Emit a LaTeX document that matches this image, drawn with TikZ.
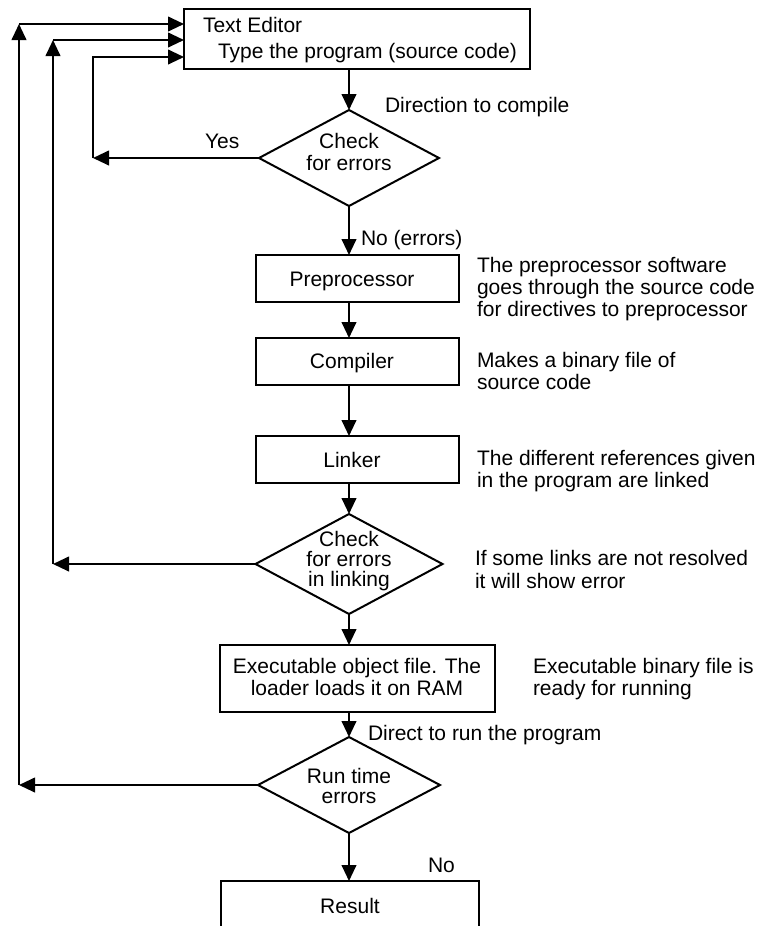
\documentclass[tikz,border=0pt]{standalone}
\usepackage{fontspec}
\setmainfont{Liberation Sans}
\usetikzlibrary{shapes.geometric,arrows.meta}

\begin{document}
\begin{tikzpicture}[x=0.75pt,y=-0.75pt,
  every node/.style={inner sep=0pt, outer sep=0pt, font=\fontsize{15.75}{18}\selectfont},
  stepbox/.style={draw, line width=1.5pt, rectangle, minimum width=152.25pt, minimum height=35.25pt},
  decision/.style={draw, line width=1.5pt, diamond, minimum width=135pt, minimum height=72pt},
  flow/.style={line width=1.5pt, -{Triangle[length=12pt,width=11pt]}},
  note/.style={anchor=base west},
  mid/.style={anchor=base}]
\useasboundingbox (0,0) rectangle (761,926);
\clip (0,0) rectangle (761,926);

% process boxes and decisions
\node[stepbox, minimum width=259.5pt, minimum height=45pt] (editor) at (357,39) {};
\node[decision] (d1) at (349,158) {};
\node[stepbox] (pre) at (357.5,278.5) {};
\node[stepbox] (comp) at (357.5,361.5) {};
\node[stepbox] (link) at (357.5,459.5) {};
\node[decision, minimum width=140.25pt, minimum height=75pt] (d2) at (349,564) {};
\node[stepbox, minimum width=206.25pt, minimum height=50.25pt] (exec) at (357.5,678.5) {};
\node[decision, minimum width=136.5pt] (d3) at (349,785) {};
\node[stepbox, minimum width=193.5pt, minimum height=37.5pt] (result) at (350,906) {};

% texts inside the shapes
\node[note] (ed1) at (203,32) {Text Editor};
\node[note] (ed2) at (218,58) {Type the program (source code)};
\node[mid] (d1a) at (349,148) {Check};
\node[mid] (d1b) at (349,170) {for errors};
\node[mid] (pret) at (352,286) {Preprocessor};
\node[mid] (compt) at (352,368) {Compiler};
\node[mid] (linkt) at (352,467) {Linker};
\node[mid] (d2a) at (349,546) {Check};
\node[mid] (d2b) at (349,566) {for errors};
\node[mid] (d2c) at (349,586) {in linking};
\node[mid] (ex1) at (357,673) {Executable object file. The};
\node[mid] (ex2) at (357,695) {loader loads it on RAM};
\node[mid] (d3a) at (349,783) {Run time};
\node[mid] (d3b) at (349,803) {errors};
\node[mid] (rest) at (350,913) {Result};

% labels along the flow
\node[note] (lbcomp) at (385,112) {Direction to compile};
\node[note] (lbyes) at (205,148) {Yes};
\node[note] (lbno) at (361,245) {No (errors)};
\node[note] (lbrun) at (368,740) {Direct to run the program};
\node[note] (lbno2) at (428,872) {No};

% descriptions on the right
\node[note] (pd1) at (477,272) {The preprocessor software};
\node[note] (pd2) at (477,294) {goes through the source code};
\node[note] (pd3) at (477,316) {for directives to preprocessor};
\node[note] (cd1) at (477,367) {Makes a binary file of};
\node[note] (cd2) at (477,389) {source code};
\node[note] (ld1) at (477,465) {The different references given};
\node[note] (ld2) at (477,487) {in the program are linked};
\node[note] (kd1) at (475,565) {If some links are not resolved};
\node[note] (kd2) at (475,588) {it will show error};
\node[note] (xd1) at (533,673) {Executable binary file is};
\node[note] (xd2) at (533,695) {ready for running};

% main flow
\draw[flow] (d1.north |- editor.south) -- (d1.north);
\draw[flow] (d1.south) -- (d1.south |- pre.north);
\draw[flow] (d1.south |- pre.south) -- (d1.south |- comp.north);
\draw[flow] (d1.south |- comp.south) -- (d1.south |- link.north);
\draw[flow] (d2.north |- link.south) -- (d2.north);
\draw[flow] (d2.south) -- (d2.south |- exec.north);
\draw[flow] (d3.north |- exec.south) -- (d3.north);
\draw[flow] (d3.south) -- (d3.south |- result.north);

% return loops to the editor
\coordinate (l1) at (d1.west -| 93,0);
\coordinate (u1) at (93,57);
\draw[flow] (d1.west) -- (l1);
\draw[flow] (l1) -- (u1) -- (editor.west |- u1);

\coordinate (l2) at (d2.west -| 53,0);
\coordinate (u2) at (53,40);
\draw[flow] (d2.west) -- (l2);
\draw[flow] (l2) -- (u2);
\draw[flow] (u2) -- (editor.west |- u2);

\coordinate (l3) at (d3.west -| 19,0);
\coordinate (u3) at (19,24);
\draw[flow] (d3.west) -- (l3);
\draw[flow] (l3) -- (u3);
\draw[flow] (u3) -- (editor.west |- u3);
\end{tikzpicture}
\end{document}
